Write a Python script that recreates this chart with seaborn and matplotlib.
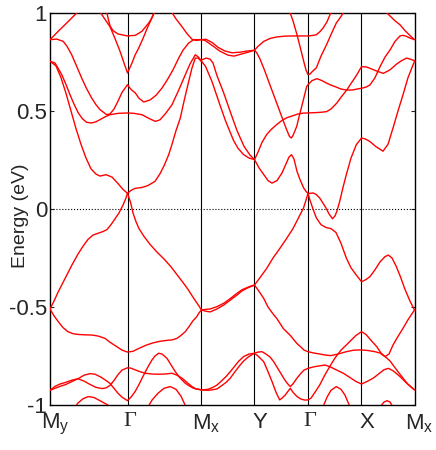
import matplotlib
matplotlib.use("Agg")
import matplotlib.pyplot as plt
from matplotlib.transforms import ScaledTranslation
import pandas as pd
import seaborn as sns

# high symmetry points along the path (k in arbitrary path units)
kpath_pos = [0.0, 77.5, 151.5, 204.5, 258.0, 311.5, 364.5]
kpath_labels = ['M$_\\mathregular{y}$', 'Γ', 'M$_\\mathregular{x}$', 'Y', 'Γ', 'X', 'M$_\\mathregular{x}$']
energy_ticks = [-1, -0.5, 0, 0.5, 1]
energy_tick_labels = ['-1', '-0.5', '0', '0.5', '1']

# bands: (k, E in eV)
band_a = [(0, 0.864), (8.3, 0.907), (18.3, 0.957), (26.7, 1.0), (28, 1.01)]
band_b = [(0, 0.864), (6.7, 0.867), (13.3, 0.855), (17, 0.83), (21.7, 0.787), (26.5, 0.73), (31.7, 0.668),
          (36.5, 0.615), (41.7, 0.566), (46, 0.532), (50, 0.507), (56.7, 0.481), (60, 0.485), (64, 0.51),
          (68, 0.55), (72, 0.595), (77.5, 0.634), (81, 0.61), (85.3, 0.592), (89, 0.565), (93.7, 0.546),
          (100, 0.556), (106, 0.58), (112, 0.617), (118, 0.665), (123, 0.71), (128.7, 0.77), (133, 0.81),
          (138.7, 0.847), (143.7, 0.864), (151.5, 0.864)]
band_c = [(0, 0.754), (5, 0.745), (11.7, 0.686), (16, 0.635), (20, 0.583), (24, 0.535), (28.3, 0.49),
          (32.5, 0.46), (36.7, 0.442), (41.7, 0.439), (46, 0.445), (50, 0.456), (55, 0.47), (60, 0.481),
          (68, 0.488), (77.5, 0.49), (84, 0.488), (92, 0.481), (99, 0.462), (105.3, 0.447), (110, 0.455),
          (116, 0.49), (122, 0.532), (129, 0.61), (135.3, 0.685), (140, 0.74), (145.3, 0.787), (148.5, 0.775),
          (151.5, 0.753)]
band_d = [(0, 0.754), (6, 0.73), (11, 0.67), (16, 0.59), (21, 0.5), (26, 0.41), (31, 0.33), (36, 0.26),
          (41, 0.205), (46, 0.178), (50, 0.168), (56, 0.175), (62, 0.163), (68, 0.13), (73, 0.1), (77.5, 0.08),
          (80.5, 0.035), (83, -0.02), (86, -0.065), (89, -0.1), (94, -0.14), (100, -0.18), (107, -0.22),
          (114, -0.255), (121, -0.295), (127, -0.335), (133, -0.375), (138, -0.41), (143, -0.45), (147, -0.48),
          (151.5, -0.515)]
band_e = [(0, -0.51), (4, -0.47), (8, -0.425), (13, -0.375), (17, -0.335), (22, -0.285), (28, -0.23),
          (33, -0.19), (38, -0.155), (43, -0.133), (48, -0.124), (53, -0.115), (57, -0.105), (61, -0.08),
          (65, -0.05), (69, -0.02), (73, 0.02), (75.5, 0.05), (77.5, 0.08), (81, 0.095), (85, 0.105), (92, 0.11),
          (98, 0.12), (105, 0.141), (110, 0.18), (114, 0.22), (118.7, 0.277), (122, 0.33), (126, 0.4),
          (130.3, 0.464), (134, 0.55), (138.7, 0.651), (142, 0.72), (145.3, 0.77), (148, 0.77), (151.5, 0.753)]
band_f = [(0, -0.51), (4, -0.545), (8.3, -0.575), (13, -0.605), (18, -0.626), (23, -0.636), (28, -0.64),
          (35, -0.642), (41.7, -0.643), (48, -0.648), (55, -0.66), (60, -0.68), (66.7, -0.702), (72, -0.72),
          (77.5, -0.73), (83, -0.726), (89, -0.711), (96, -0.695), (103, -0.683), (110, -0.675), (117, -0.67),
          (122, -0.668), (127, -0.66), (131, -0.645), (135.3, -0.626), (139, -0.6), (143, -0.57), (146.7, -0.55),
          (149, -0.53), (151.5, -0.515)]
band_h = [(0, -0.925), (5, -0.915), (10, -0.905), (16, -0.895), (22, -0.88), (28, -0.866), (34, -0.848),
          (40, -0.84), (45, -0.843), (51, -0.858), (56, -0.875), (60, -0.89), (64, -0.915), (68, -0.94),
          (72, -0.96), (77.5, -0.978), (81, -0.96), (85.3, -0.93), (89, -0.895), (93.7, -0.847), (98, -0.805),
          (102, -0.77), (105, -0.75), (108.7, -0.736), (112, -0.74), (117, -0.762), (121, -0.795), (125.3, -0.83),
          (130, -0.862), (135.3, -0.889), (140, -0.905), (143.7, -0.915), (151.5, -0.923)]
band_i = [(0, -0.925), (5, -0.905), (10, -0.893), (16, -0.884), (22, -0.873), (28, -0.866), (34, -0.878),
          (40, -0.895), (46, -0.91), (52, -0.916), (56, -0.913), (60, -0.9), (64, -0.875), (68, -0.845),
          (72, -0.822), (77.5, -0.81), (81, -0.812), (85.3, -0.821), (90, -0.83), (95.3, -0.838), (102, -0.842),
          (108.7, -0.843), (115, -0.842), (122, -0.838), (127, -0.848), (132, -0.863), (137, -0.885),
          (142, -0.906), (146, -0.918), (151.5, -0.923)]
band_j = [(25, -1.01), (28, -0.99), (33, -0.968), (38.3, -0.957), (44, -0.962), (50, -0.978), (56, -0.995),
          (61.5, -1.01)]
band_m = [(98, -1.01), (102, -0.975), (108, -0.94), (114, -0.915), (120.3, -0.906), (126, -0.92), (131, -0.955),
          (136, -1.01)]
band_u1l = [(56.5, 1.01), (58.5, 0.965), (60, 0.935), (63, 0.91), (68, 0.893), (77.5, 0.883), (85.3, 0.886),
            (92, 0.907), (98.7, 0.949), (102, 0.975), (105, 1.01)]
band_v1 = [(49.5, 1.01), (54, 0.975), (60, 0.93), (65, 0.87), (70, 0.805), (74, 0.745), (77.5, 0.694),
           (82, 0.745), (85, 0.785), (88.7, 0.821), (93, 0.87), (97, 0.92), (101, 0.965), (104.5, 1.01)]
band_top1 = [(121, 1.01), (126, 0.97), (132, 0.93), (137, 0.895), (142, 0.866), (146, 0.86), (151.5, 0.864)]

band_u1 = [(151.5, 0.864), (156, 0.866), (162, 0.85), (168, 0.825), (175, 0.806), (182, 0.797), (190, 0.8),
           (197, 0.806), (204.5, 0.81)]
band_u2 = [(151.5, 0.864), (155, 0.86), (162, 0.835), (170, 0.805), (178, 0.785), (184, 0.78), (191, 0.79),
           (198, 0.8), (204.5, 0.81)]
band_w1 = [(151.5, 0.76), (156, 0.77), (160, 0.765), (163, 0.745), (167, 0.68), (173.5, 0.595), (180, 0.5),
           (187, 0.4), (194, 0.32), (200, 0.275), (204.5, 0.252)]
band_w2 = [(151.5, 0.754), (155.5, 0.728), (162, 0.65), (169, 0.545), (175.5, 0.45), (183.5, 0.35), (188, 0.31),
           (193.5, 0.278), (199, 0.26), (204.5, 0.252)]
band_n1 = [(151.5, -0.515), (156, -0.512), (160.3, -0.51), (167, -0.498), (173.7, -0.481), (180, -0.458),
           (187, -0.43), (192, -0.412), (197, -0.401), (201, -0.393), (204.5, -0.388)]
band_n2 = [(151.5, -0.515), (156, -0.522), (160.3, -0.525), (167, -0.51), (173.7, -0.49), (180, -0.466),
           (187, -0.439), (192, -0.418), (197, -0.404), (204.5, -0.388)]
band_l1 = [(151.5, -0.923), (158, -0.92), (163, -0.91), (167, -0.898), (172, -0.875), (176, -0.855),
           (180.3, -0.83), (185, -0.8), (189, -0.775), (193.7, -0.753), (199, -0.74), (204.5, -0.736)]
band_l2 = [(151.5, -0.923), (158, -0.925), (163, -0.922), (167, -0.918), (172, -0.9), (176, -0.885),
           (180.3, -0.863), (185, -0.83), (189.5, -0.8), (193.7, -0.775), (199, -0.752), (204.5, -0.736)]

band_g = [(204.5, -0.388), (210, -0.35), (216.7, -0.303), (223, -0.25), (230, -0.2), (236, -0.155), (243, -0.1),
          (248, -0.05), (253.5, 0.005), (256, 0.045), (258, 0.08), (260, 0.045), (263, 0.0), (266.3, -0.045),
          (271, -0.08), (276.3, -0.095), (281, -0.1), (286, -0.12), (291, -0.175), (296.3, -0.25), (301, -0.3),
          (306.3, -0.337), (311.5, -0.371), (316, -0.36), (320, -0.345), (325, -0.31), (330, -0.27),
          (335, -0.243), (338.3, -0.235), (342, -0.25), (346, -0.29), (350, -0.34), (355, -0.41), (360, -0.47),
          (364.5, -0.515)]
band_y = [(204.5, -0.388), (209, -0.42), (213.7, -0.456), (218, -0.5), (223, -0.535), (227, -0.56),
          (233.3, -0.61), (240.3, -0.645), (246.7, -0.685), (251, -0.705), (254, -0.72), (258, -0.728),
          (264, -0.735), (270, -0.74), (275, -0.745), (281, -0.748), (288, -0.74), (296.3, -0.728), (304, -0.72),
          (311.5, -0.719), (318, -0.722), (325, -0.728), (330, -0.735), (335, -0.753), (340, -0.775),
          (343, -0.796), (348, -0.83), (353, -0.863), (358, -0.895), (364.5, -0.923)]
band_c2 = [(204.5, 0.252), (208, 0.29), (212, 0.34), (216.7, 0.38), (221, 0.405), (227, 0.432), (232, 0.452),
           (237, 0.466), (243, 0.476), (248, 0.485), (253, 0.489), (258, 0.49), (262, 0.491), (266.7, 0.492),
           (272, 0.494), (276.7, 0.497), (281, 0.51), (286.7, 0.54), (291, 0.57), (296.7, 0.607), (301, 0.64),
           (306.7, 0.684), (311.5, 0.726), (316, 0.725), (320, 0.718), (326, 0.705), (333.3, 0.692), (340, 0.71),
           (346.7, 0.74), (351, 0.755), (356.5, 0.77), (360, 0.765), (364.5, 0.757)]
band_d2 = [(204.5, 0.252), (209, 0.21), (213.7, 0.176), (218, 0.145), (222, 0.132), (227, 0.145), (232, 0.184),
           (236, 0.23), (239, 0.265), (241.5, 0.277), (244, 0.255), (247, 0.192), (250, 0.15), (253.7, 0.107),
           (256, 0.09), (258, 0.08), (260.5, 0.08), (263, 0.082), (266, 0.075), (269.7, 0.056), (273, 0.03),
           (276, 0.005), (279, -0.025), (282.5, -0.05), (285, -0.035), (287, -0.01), (290, 0.045), (293, 0.11),
           (296.3, 0.175), (301, 0.26), (306.3, 0.328), (311.5, 0.362), (315, 0.358), (319.7, 0.345),
           (326, 0.318), (333, 0.295), (338, 0.33), (343, 0.413), (348, 0.5), (353, 0.583), (358, 0.67),
           (364.5, 0.754)]
band_flat = [(204.5, 0.81), (208, 0.83), (213.7, 0.855), (220, 0.87), (227, 0.878), (235, 0.882), (243.7, 0.883),
             (250, 0.883), (258, 0.883), (262, 0.885), (266.3, 0.889), (270, 0.905), (273, 0.923), (277, 0.955),
             (281.5, 1.01)]
band_s = [(204.5, 0.81), (207, 0.795), (210, 0.765), (214, 0.715), (218, 0.66), (222, 0.605), (226, 0.55),
          (230, 0.495), (234, 0.44), (237, 0.4), (239.5, 0.37), (241.3, 0.362), (243, 0.375), (246.7, 0.421),
          (249, 0.47), (251.7, 0.523), (254, 0.57), (256.7, 0.625), (258, 0.634), (262, 0.655), (267, 0.665),
          (272, 0.655), (276.7, 0.642), (281, 0.632), (286.7, 0.621), (291, 0.612), (296.7, 0.607), (302, 0.607),
          (307, 0.612), (311.5, 0.616), (316, 0.622), (320, 0.633), (325, 0.67), (330, 0.726), (335, 0.775),
          (340, 0.811), (345, 0.855), (350, 0.883), (353, 0.886), (356.5, 0.881), (360, 0.872), (364.5, 0.864)]
band_u3 = [(239.5, 1.01), (243, 0.96), (247, 0.889), (250, 0.829), (253.7, 0.754), (256, 0.709), (258, 0.686),
           (260, 0.688), (262, 0.7), (266.3, 0.72), (271, 0.78), (276.7, 0.84), (281, 0.89), (286.3, 0.949),
           (290, 0.975), (294.5, 1.01)]
band_top2 = [(335, 1.01), (340, 0.985), (345, 0.96), (350, 0.94), (355, 0.91), (360, 0.885), (364.5, 0.864)]
band_p = [(204.5, -0.736), (208, -0.73), (212, -0.728), (216, -0.74), (220, -0.755), (223.7, -0.779),
          (228, -0.815), (233.7, -0.863), (237, -0.888), (240.3, -0.906), (243, -0.892), (247, -0.863),
          (251, -0.838), (254, -0.822), (258, -0.813), (264, -0.805), (270, -0.8), (275, -0.796), (280, -0.805),
          (286, -0.82), (293.3, -0.838), (300, -0.86), (306, -0.88), (311.5, -0.893), (317, -0.88),
          (323.3, -0.863), (329, -0.84), (334, -0.82), (338.3, -0.813), (343, -0.825), (350, -0.855),
          (356, -0.885), (364.5, -0.923)]
band_q = [(204.5, -0.736), (208, -0.75), (213.7, -0.779), (218, -0.83), (222, -0.88), (226, -0.935),
          (229.7, -0.974), (232, -0.965), (235.3, -0.949), (238, -0.93), (240.3, -0.915), (243, -0.935),
          (247, -0.957), (251, -0.97), (255, -0.975), (258, -0.974), (261, -0.965), (265, -0.935), (269.7, -0.898),
          (274, -0.855), (279.7, -0.804), (285, -0.76), (291, -0.72), (296.3, -0.694), (301, -0.67), (306, -0.645),
          (311.5, -0.626), (316, -0.64), (321, -0.67), (326.7, -0.702), (331, -0.735), (335, -0.753), (339, -0.74),
          (343, -0.694), (348, -0.65), (353, -0.609), (358, -0.565), (364.5, -0.515)]
band_r = [(273, -1.01), (277, -0.96), (281, -0.925), (286.3, -0.906), (291, -0.92), (295, -0.95), (300, -1.01)]
band_t = [(330, -1.01), (334, -0.985), (337, -0.978), (340, -0.985), (343, -1.01)]

bands = {
    'a': band_a, 'b': band_b, 'c': band_c, 'd': band_d, 'e': band_e, 'f': band_f, 'h': band_h, 'i': band_i,
    'j': band_j, 'm': band_m, 'u1l': band_u1l, 'v1': band_v1, 'top1': band_top1, 'u1': band_u1, 'u2': band_u2,
    'w1': band_w1, 'w2': band_w2, 'n1': band_n1, 'n2': band_n2, 'l1': band_l1, 'l2': band_l2, 'g': band_g,
    'y': band_y, 'c2': band_c2, 'd2': band_d2, 'flat': band_flat, 's': band_s, 'u3': band_u3,
    'top2': band_top2, 'p': band_p, 'q': band_q, 'r': band_r, 't': band_t,
}
df = pd.concat([pd.DataFrame(pts, columns=['k', 'E']).assign(band=name) for name, pts in bands.items()],
               ignore_index=True)

sns.set_style('ticks')
plt.rcParams['font.family'] = ['Liberation Sans', 'DejaVu Sans']
plt.rcParams['mathtext.default'] = 'regular'

fig = plt.figure(figsize=(4.36, 4.5), dpi=100)
ax = fig.add_axes([50 / 436, 45 / 450, 364.5 / 436, 392 / 450])

for k in kpath_pos[1:-1]:
    ax.axvline(k, color='black', lw=0.8, zorder=1)
ax.axhline(0, color='black', ls=':', lw=0.8, zorder=1)

sns.lineplot(data=df, x='k', y='E', units='band', estimator=None, sort=False,
             color='red', linewidth=1.0, ax=ax, zorder=3)

ax.set_xlim(kpath_pos[0], kpath_pos[-1])
ax.set_ylim(-1, 1)
ax.set_xticks(kpath_pos)
ax.set_xticklabels(kpath_labels)
ax.set_yticks(energy_ticks)
ax.set_yticklabels(energy_tick_labels)
ax.tick_params(axis='x', length=0, pad=5, labelsize=16)
ax.tick_params(axis='y', direction='in', length=3, right=True, pad=2, labelsize=16)
ax.set_xlabel('')
ax.set_ylabel('Energy (eV)', fontsize=14)
ax.yaxis.set_label_coords(-0.058, 0.482)
for sp in ax.spines.values():
    sp.set_linewidth(1.0)
    sp.set_color('black')

for lab in ax.get_xticklabels():
    shift = 5
    if lab.get_text() == 'Γ':
        lab.set_fontfamily(['Liberation Serif', 'DejaVu Serif'])
        shift = 2
    lab.set_transform(lab.get_transform() + ScaledTranslation(shift / 100, 0, fig.dpi_scale_trans))

fig.savefig('out.png', dpi=100)
